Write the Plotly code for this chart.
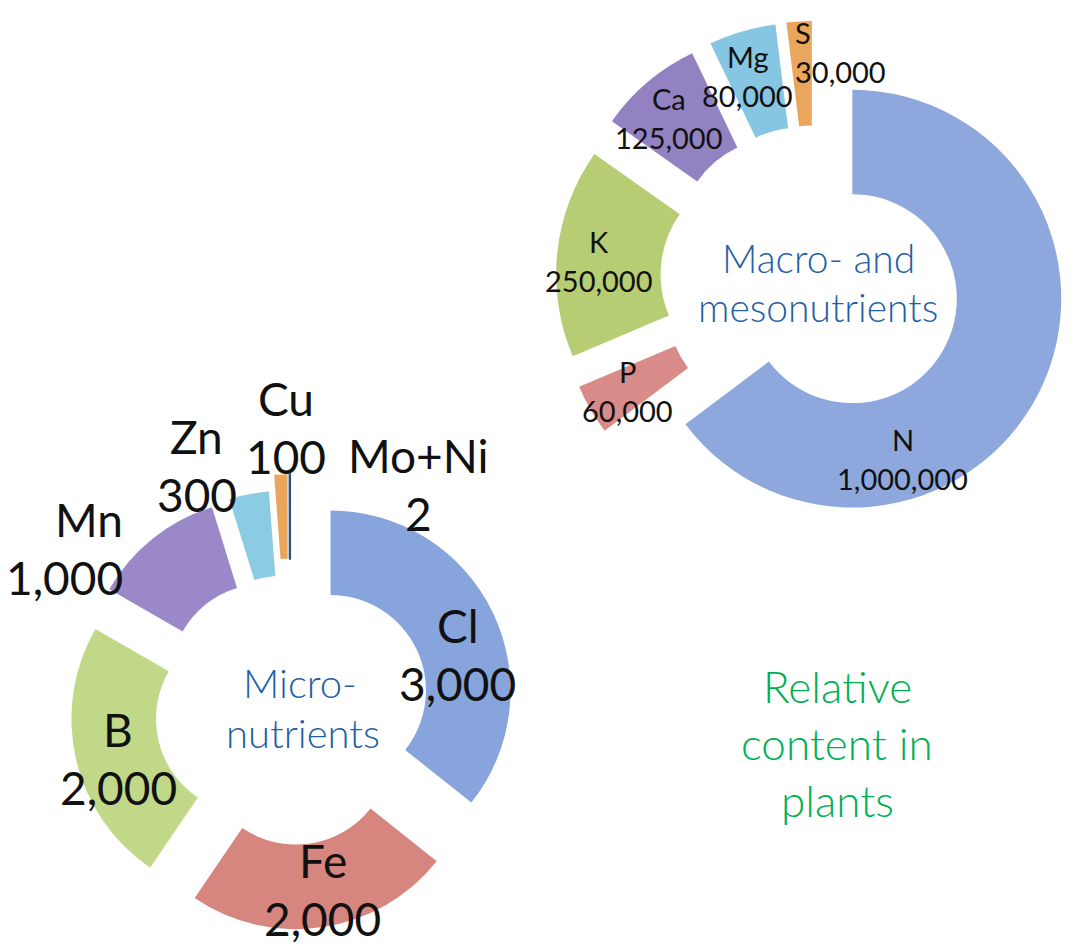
import numpy as np
import plotly.graph_objects as go

W, H = 1074, 947

# Macro- and mesonutrients (relative content)
macro_labels = ["N", "P", "K", "Ca", "Mg", "S"]
macro_values = [1000000, 60000, 250000, 125000, 80000, 30000]

# Micronutrients (relative content)
micro_labels = ["Cl", "Fe", "B", "Mn", "Zn", "Cu", "Mo+Ni"]
micro_values = [3000, 2000, 2000, 1000, 300, 100, 2]

macro_colors = ["#8ea8de", "#d88b88", "#b6cd74", "#9282c2", "#86c6e2", "#e9a65c"]
micro_colors = ["#87a4dd", "#d6857f", "#c2d889", "#9a88c8", "#8ccbe4", "#e9a65c", "#2f4f7f"]

# ring geometry (pixels): centre, outer radius, hole fraction, explode amounts
MACRO = dict(cx=815, cy=280, r=209, hole=0.5,
             pull=[0.20, 0.24, 0.24, 0.24, 0.24, 0.24])
MICRO = dict(cx=290, cy=710, r=180, hole=0.53,
             pull=[0.25, 0.22, 0.22, 0.22, 0.22, 0.31, 0.31])

LABEL_FONT = "Lato, 'Open Sans', sans-serif"


def domain_for(g):
    half = g["r"] * (1 + max(g["pull"]))
    x0 = max(0.0, (g["cx"] - half) / W)
    x1 = min(1.0, (g["cx"] + half) / W)
    y0 = max(0.0, 1 - (g["cy"] + half) / H)
    y1 = min(1.0, 1 - (g["cy"] - half) / H)
    return dict(x=[x0, x1], y=[y0, y1])


def label_anchors(values, g):
    """Mid-point of each exploded sector, clockwise from 12 o'clock."""
    v = np.asarray(values, dtype=float)
    frac = v / v.sum()
    mids = (np.cumsum(frac) - frac / 2) * 2 * np.pi
    r = g["r"]
    dist = np.asarray(g["pull"]) * r + r * (1 + g["hole"]) / 2
    return g["cx"] + dist * np.sin(mids), g["cy"] - dist * np.cos(mids)


def px(x, y):
    return x / W, 1 - y / H


fig = go.Figure()

fig.add_trace(go.Pie(
    labels=macro_labels, values=macro_values, sort=False,
    direction="clockwise", rotation=0, hole=MACRO["hole"],
    pull=MACRO["pull"], domain=domain_for(MACRO),
    marker=dict(colors=macro_colors, line=dict(width=0)),
    textinfo="none", hoverinfo="label+value", showlegend=False,
))

# the Mo+Ni sector is only a sliver, so it gets an outline to stay visible
micro_line_w = [0] * (len(micro_values) - 1) + [2.2]
fig.add_trace(go.Pie(
    labels=micro_labels, values=micro_values, sort=False,
    direction="clockwise", rotation=0, hole=MICRO["hole"],
    pull=MICRO["pull"], domain=domain_for(MICRO),
    marker=dict(colors=micro_colors,
                line=dict(width=micro_line_w, color=micro_colors)),
    textinfo="none", hoverinfo="label+value", showlegend=False,
))

annotations = []


def add_text(x, y, text, size, color, xanchor="center", weight=None):
    xp, yp = px(x, y)
    font = dict(family=LABEL_FONT, size=size, color=color)
    if weight:
        font["weight"] = weight
    annotations.append(dict(x=xp, y=yp, xref="paper", yref="paper",
                            text=text, showarrow=False, xanchor=xanchor,
                            yanchor="middle", font=font))


def add_slice_labels(names, values, g, nudges, sides, size, gap):
    ax, ay = label_anchors(values, g)
    for name, val, x, y in zip(names, values, ax, ay):
        dx, dy = nudges.get(name, (0, 0))
        side = sides.get(name, "center")
        bx, by = x + dx, y + dy
        add_text(bx, by - gap / 2, name, size, "#111111", side)
        add_text(bx, by + gap / 2, f"{val:,}", size, "#111111", side)


macro_nudge = {"N": (-90, 90), "P": (-8, 8), "K": (-10, 3), "Ca": (-12, -4),
               "Mg": (-9, -5), "S": (-9, -21)}
macro_side = {"S": "left"}
micro_nudge = {"Cl": (3, 24), "Fe": (6, 4), "B": (1, 9), "Mn": (-54, -23),
               "Zn": (-60, -70), "Cu": (4, -89), "Mo+Ni": (129, -32)}
micro_side = {"Mn": "right"}

add_slice_labels(macro_labels, macro_values, MACRO, macro_nudge, macro_side, 29, 39)
add_slice_labels(micro_labels, micro_values, MICRO, micro_nudge, micro_side, 46, 58)

BLUE_TXT = "#1f5fa5"
add_text(818, 258, "Macro- and", 39, BLUE_TXT, weight=300)
add_text(818, 307, "mesonutrients", 39, BLUE_TXT, weight=300)
add_text(300, 683, "Micro-", 40, BLUE_TXT, weight=300)
add_text(303, 733, "nutrients", 40, BLUE_TXT, weight=300)

GREEN_TXT = "#00b050"
add_text(837, 686, "Relative", 44, GREEN_TXT, weight=300)
add_text(837, 743, "content in", 44, GREEN_TXT, weight=300)
add_text(837, 800, "plants", 44, GREEN_TXT, weight=300)

fig.update_layout(
    width=W, height=H,
    margin=dict(l=0, r=0, t=0, b=0),
    paper_bgcolor="white", plot_bgcolor="white",
    showlegend=False,
    annotations=annotations,
)

fig.write_html("out.html")
